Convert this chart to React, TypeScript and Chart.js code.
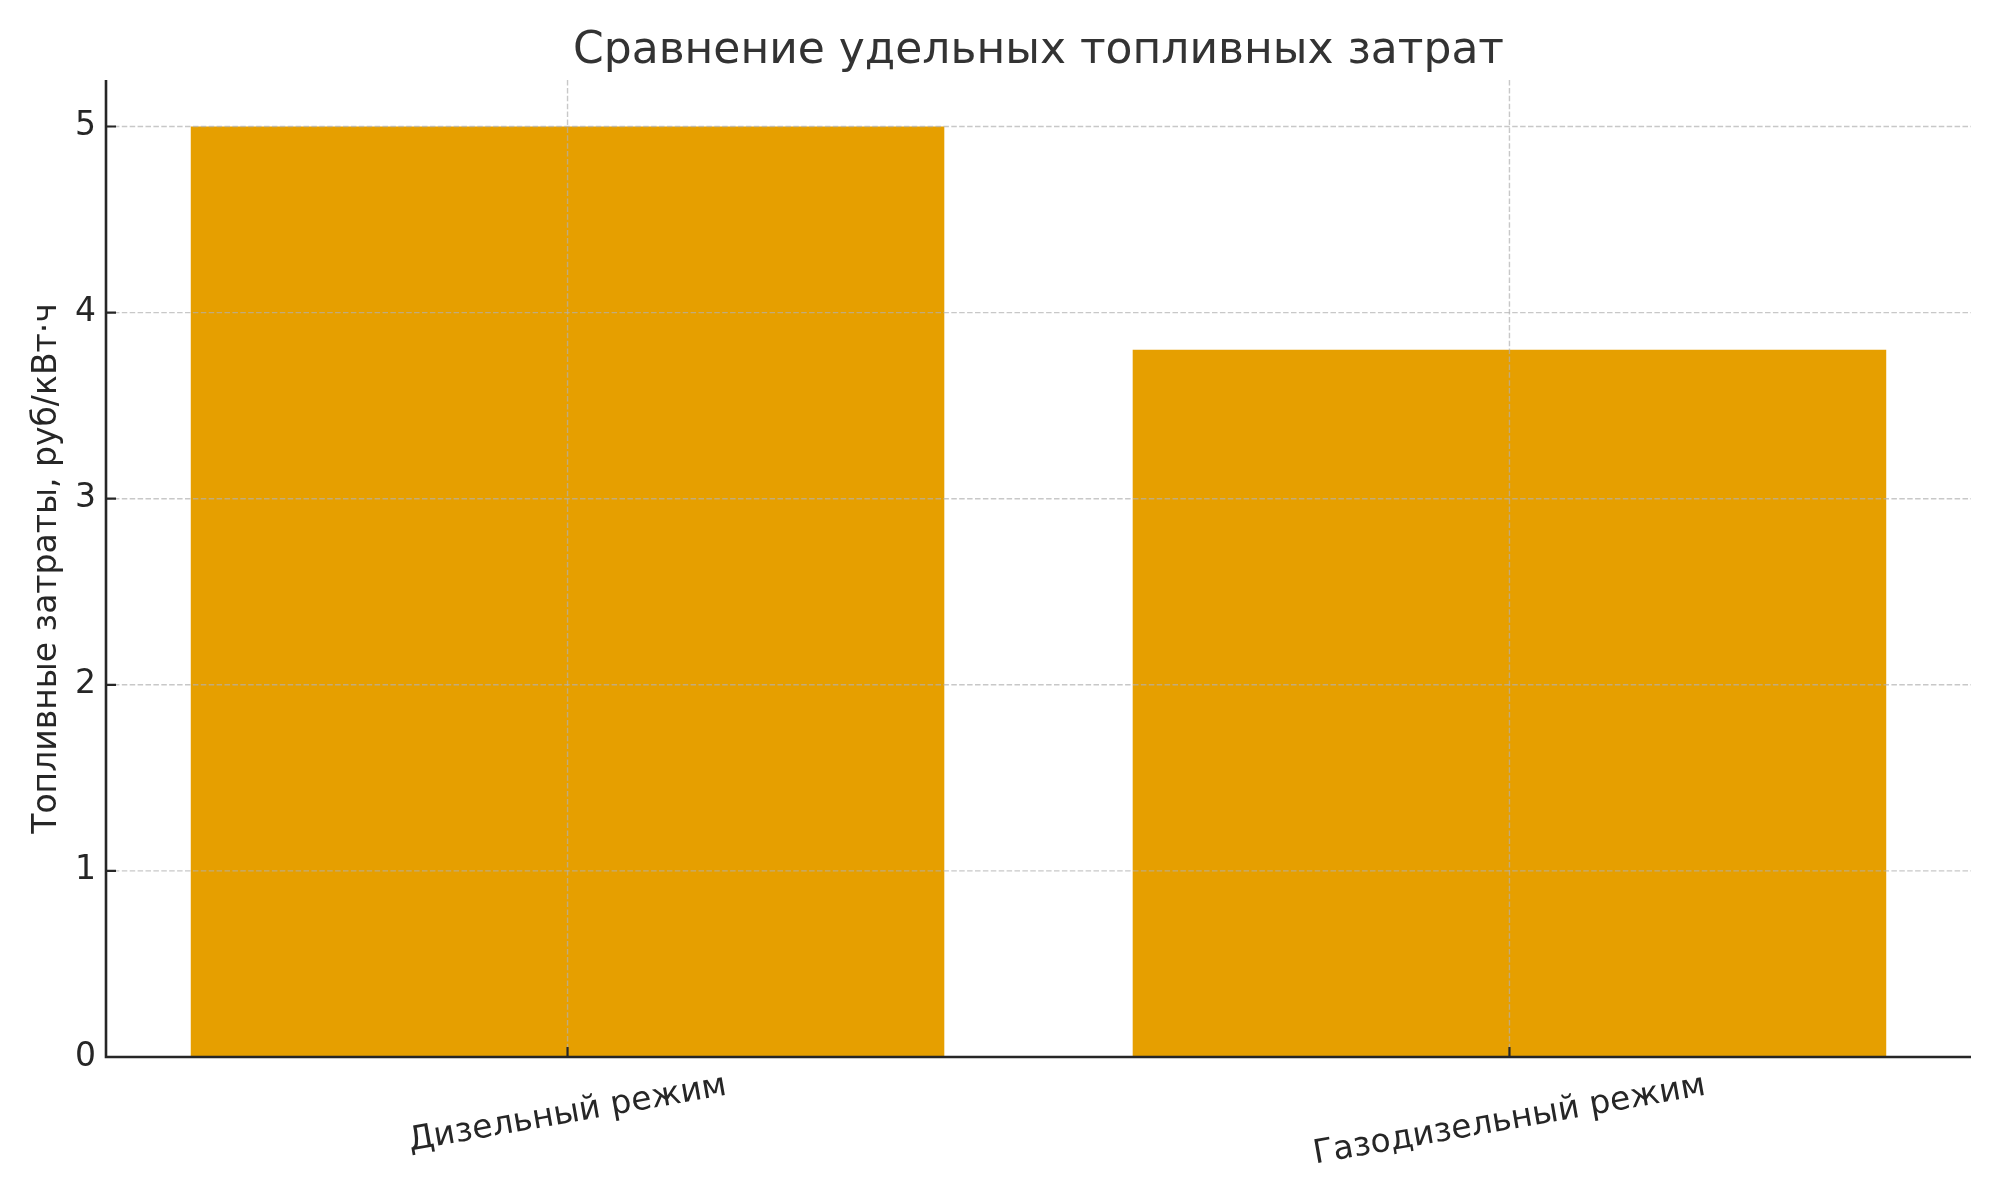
import React, { useEffect, useRef } from "react";
import { Chart, registerables } from "chart.js";

Chart.register(...registerables);

const categories = ["Дизельный режим", "Газодизельный режим"];
const fuelCost = [5.0, 3.8];
const yTicks = [0, 1, 2, 3, 4, 5];
const titleText = "Сравнение удельных топливных затрат";
const yLabel = "Топливные затраты, руб/кВт·ч";

const FONT = "'DejaVu Sans', 'Noto Sans', sans-serif";
const BAR_COLOR = "#E69F00";
const TEXT_COLOR = "#262626";
const ROT = (10 * Math.PI) / 180;

const decorPlugin = {
  id: "decor",
  afterDatasetsDraw(chart: any) {
    const { ctx, chartArea: a, scales } = chart;
    const x = scales.x;
    const y = scales.y;
    ctx.save();

    // grid (above bars)
    ctx.strokeStyle = "rgba(176,176,176,0.7)";
    ctx.lineWidth = 1.4;
    ctx.setLineDash([5.5, 2.4]);
    categories.forEach((_, i) => {
      const px = x.getPixelForValue(i);
      ctx.beginPath();
      ctx.moveTo(px, a.top);
      ctx.lineTo(px, a.bottom);
      ctx.stroke();
    });
    yTicks.forEach((v) => {
      const py = y.getPixelForValue(v);
      ctx.beginPath();
      ctx.moveTo(a.left, py);
      ctx.lineTo(a.right, py);
      ctx.stroke();
    });
    ctx.setLineDash([]);

    // spines
    ctx.strokeStyle = TEXT_COLOR;
    ctx.lineWidth = 2.6;
    ctx.beginPath();
    ctx.moveTo(a.left, a.top);
    ctx.lineTo(a.left, a.bottom);
    ctx.moveTo(a.left - 1.3, a.bottom);
    ctx.lineTo(a.right, a.bottom);
    ctx.stroke();

    // inward ticks
    ctx.lineWidth = 2.2;
    ctx.beginPath();
    categories.forEach((_, i) => {
      const px = x.getPixelForValue(i);
      ctx.moveTo(px, a.bottom);
      ctx.lineTo(px, a.bottom - 10);
    });
    yTicks.forEach((v) => {
      const py = y.getPixelForValue(v);
      ctx.moveTo(a.left, py);
      ctx.lineTo(a.left + 10, py);
    });
    ctx.stroke();

    // x tick labels, rotated and centred on the tick
    ctx.fillStyle = TEXT_COLOR;
    ctx.font = `33px ${FONT}`;
    ctx.textAlign = "center";
    ctx.textBaseline = "middle";
    const H = 33 * 1.17;
    categories.forEach((label, i) => {
      const px = x.getPixelForValue(i);
      const L = ctx.measureText(label).width;
      const cy = a.bottom + 10 + (L * Math.sin(ROT) + H * Math.cos(ROT)) / 2;
      ctx.save();
      ctx.translate(px, cy);
      ctx.rotate(-ROT);
      ctx.fillText(label, 0, 0);
      ctx.restore();
    });

    // y axis label
    ctx.save();
    ctx.translate(56, (a.top + a.bottom) / 2);
    ctx.rotate(-Math.PI / 2);
    ctx.textAlign = "center";
    ctx.textBaseline = "alphabetic";
    ctx.font = `33px ${FONT}`;
    ctx.fillText(yLabel, 0, 0);
    ctx.restore();

    // title
    ctx.fillStyle = "#333333";
    ctx.font = `44px ${FONT}`;
    ctx.textAlign = "center";
    ctx.textBaseline = "alphabetic";
    ctx.fillText(titleText, (a.left + a.right) / 2, a.top - 17);

    ctx.restore();
  },
};

export default function App() {
  const canvasRef = useRef<HTMLCanvasElement | null>(null);

  useEffect(() => {
    if (!canvasRef.current) return;
    const chart = new Chart(canvasRef.current, {
      type: "bar",
      data: {
        labels: categories,
        datasets: [
          {
            label: "fuel",
            data: fuelCost.map((v, i) => ({ x: i, y: v })) as any,
            backgroundColor: BAR_COLOR,
            borderWidth: 0,
            barPercentage: 0.8,
            categoryPercentage: 1,
          },
        ],
      },
      options: {
        responsive: false,
        animation: false,
        devicePixelRatio: 1,
        layout: { padding: { top: 80, left: 0, right: 29, bottom: 0 } },
        plugins: {
          legend: { display: false },
          tooltip: { enabled: false },
          title: { display: false },
        },
        scales: {
          x: {
            type: "linear",
            offset: false,
            min: -0.49,
            max: 1.49,
            grid: { display: false, drawTicks: false, offset: false },
            border: { display: false },
            ticks: { display: false },
            afterBuildTicks: (s: any) => {
              s.ticks = categories.map((_, i) => ({ value: i }));
            },
            afterFit: (s: any) => {
              s.height = 143;
            },
          },
          y: {
            min: 0,
            max: 5.25,
            grid: { display: false, drawTicks: false },
            border: { display: false },
            ticks: {
              padding: 10,
              color: TEXT_COLOR,
              font: { family: FONT, size: 33 },
              callback: (v: any) => String(v),
            },
            afterBuildTicks: (s: any) => {
              s.ticks = yTicks.map((v) => ({ value: v }));
            },
            afterFit: (s: any) => {
              s.width = 106;
            },
          },
        },
      },
      plugins: [decorPlugin],
    });
    return () => chart.destroy();
  }, []);

  return (
    <canvas
      ref={canvasRef}
      width={2000}
      height={1200}
      style={{ position: "absolute", left: 0, top: 0, width: 2000, height: 1200 }}
    />
  );
}
